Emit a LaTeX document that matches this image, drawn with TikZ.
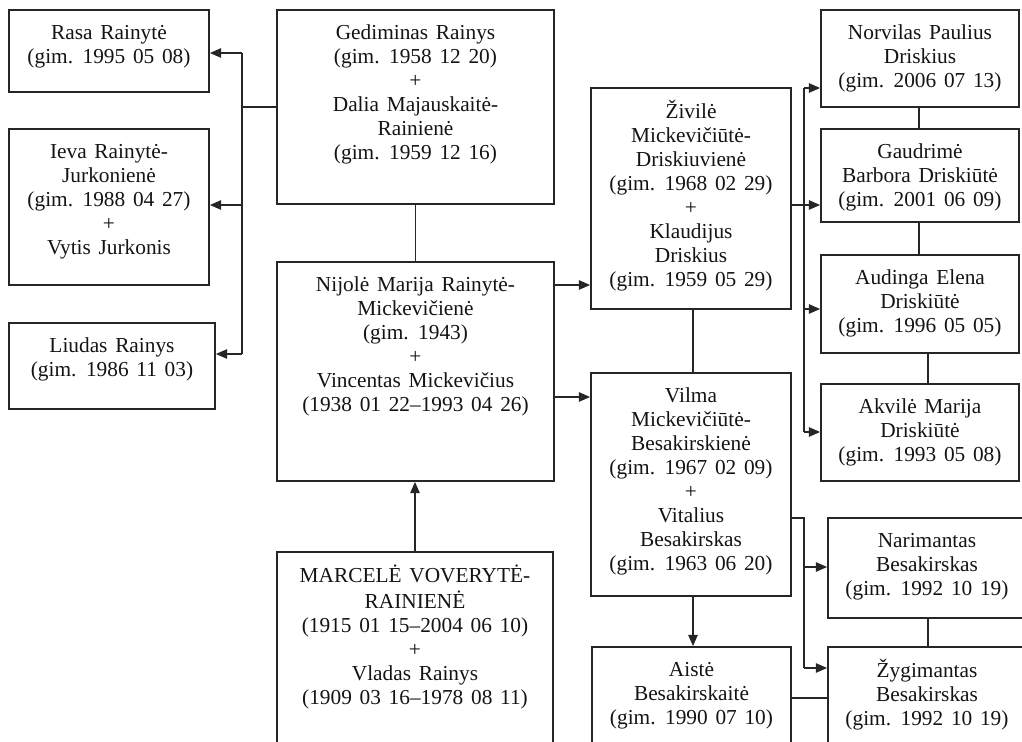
\documentclass[tikz,border=0pt]{standalone}
\usepackage{fontspec}
\setmainfont{Liberation Serif}[WordSpace=1.45]
\usetikzlibrary{arrows.meta,fit,calc}
\newcommand\pbx[6]{%
  \node[pbox, fit={(#2,#3)(#4,#5)}] (#1) {};
  \node[ptxt] (#1t) at ($(#1.north)+(0,13)$) {\strut #6};
}
\begin{document}
\begin{tikzpicture}[x=0.75pt,y=-0.75pt,
  pbox/.style={draw=black!85, line width=1.25pt, inner sep=0pt},
  ptxt/.style={anchor=north, inner sep=0pt, align=center, text=black!92,
     font=\fontsize{16pt}{18pt}\selectfont},
  ln/.style={draw=black!85, line width=1.25pt},
  arr/.style={ln, -{Triangle[length=8.5pt,width=7pt]}}]
\useasboundingbox (0,0) rectangle (1022,742);
\clip (0,0) rectangle (1022,742);
\fill[white] (0,0) rectangle (1022,742);

\pbx{rasa}{9}{10}{209}{92}{Rasa Rainytė\\(gim. 1995 05 08)}
\pbx{ieva}{9}{129}{209}{285}{Ieva Rainytė-\\Jurkonienė\\(gim. 1988 04 27)\\+\\Vytis Jurkonis}
\pbx{liudas}{9}{323}{215}{409}{Liudas Rainys\\(gim. 1986 11 03)}
\pbx{gedim}{277}{10}{554}{204}{Gediminas Rainys\\(gim. 1958 12 20)\\+\\Dalia Majauskaitė-\\Rainienė\\(gim. 1959 12 16)}
\pbx{nijole}{277}{262}{554}{481}{Nijolė Marija Rainytė-\\Mickevičienė\\(gim. 1943)\\+\\Vincentas Mickevičius\\(1938 01 22–1993 04 26)}
\pbx{marcele}{277}{552}{553}{770}{MARCELĖ VOVERYTĖ-\\RAINIENĖ\\(1915 01 15–2004 06 10)\\+\\Vladas Rainys\\(1909 03 16–1978 08 11)}
\pbx{zivile}{591}{88}{791}{309}{Živilė\\Mickevičiūtė-\\Driskiuvienė\\(gim. 1968 02 29)\\+\\Klaudijus\\Driskius\\(gim. 1959 05 29)}
\pbx{vilma}{591}{373}{791}{596}{Vilma\\Mickevičiūtė-\\Besakirskienė\\(gim. 1967 02 09)\\+\\Vitalius\\Besakirskas\\(gim. 1963 06 20)}
\pbx{aiste}{592}{647}{791}{770}{Aistė\\Besakirskaitė\\(gim. 1990 07 10)}
\pbx{norvilas}{821}{10}{1019}{107}{Norvilas Paulius\\Driskius\\(gim. 2006 07 13)}
\pbx{gaudrime}{821}{129}{1019}{222}{Gaudrimė\\Barbora Driskiūtė\\(gim. 2001 06 09)}
\pbx{audinga}{821}{255}{1019}{353}{Audinga Elena\\Driskiūtė\\(gim. 1996 05 05)}
\pbx{akvile}{821}{384}{1019}{481}{Akvilė Marija\\Driskiūtė\\(gim. 1993 05 08)}
\pbx{narim}{828}{518}{1026}{618}{Narimantas\\Besakirskas\\(gim. 1992 10 19)}
\pbx{zygim}{828}{647}{1026}{770}{Žygimantas\\Besakirskas\\(gim. 1992 10 19)}

% left family branch
\coordinate (gl) at (242,107);
\coordinate (gr) at (242,53);
\coordinate (gi) at (242,205);
\coordinate (gd) at (242,354);
\draw[ln] (gl -| gedim.west) -- (gl);
\draw[ln] (gr) -- (gd);
\draw[arr] (gr) -- (gr -| rasa.east);
\draw[arr] (gi) -- (gi -| ieva.east);
\draw[arr] (gd) -- (gd -| liudas.east);

% central column
\draw[ln] (gedim.south) -- (gedim.south |- nijole.north);
\draw[arr] (marcele.north) -- (marcele.north |- nijole.south);
\coordinate (nz) at (554,285);
\coordinate (nv) at (554,397);
\draw[arr] (nz) -- (nz -| zivile.west);
\draw[arr] (nv) -- (nv -| vilma.west);
\coordinate (zv) at (693,309);
\draw[ln] (zv) -- (zv |- vilma.north);
\coordinate (va) at (693,596);
\draw[arr] (va) -- (va |- aiste.north);

% Zivile's children
\coordinate (zt) at (804,88);
\coordinate (zg) at (791,205);
\coordinate (za) at (804,309);
\coordinate (zk) at (804,432);
\draw[ln] (zt) -- (zk);
\draw[arr] (zt) -- (zt -| norvilas.west);
\draw[arr] (zg) -- (zg -| gaudrime.west);
\draw[arr] (za) -- (za -| audinga.west);
\draw[arr] (zk) -- (zk -| akvile.west);
\coordinate (s1) at (919,107);
\coordinate (s2) at (919,222);
\coordinate (s3) at (928,353);
\draw[ln] (s1) -- (s1 |- gaudrime.north);
\draw[ln] (s2) -- (s2 |- audinga.north);
\draw[ln] (s3) -- (s3 |- akvile.north);

% Vilma's children
\coordinate (vr) at (791,518);
\coordinate (vc) at (804,518);
\coordinate (vn) at (804,567);
\coordinate (vz) at (804,668);
\draw[ln] (vr) -- (vc) -- (vz);
\draw[arr] (vn) -- (vn -| narim.west);
\draw[arr] (vz) -- (vz -| zygim.west);
\coordinate (s4) at (928,618);
\draw[ln] (s4) -- (s4 |- zygim.north);
\coordinate (az) at (791,698);
\draw[ln] (az) -- (az -| zygim.west);
\end{tikzpicture}
\end{document}
